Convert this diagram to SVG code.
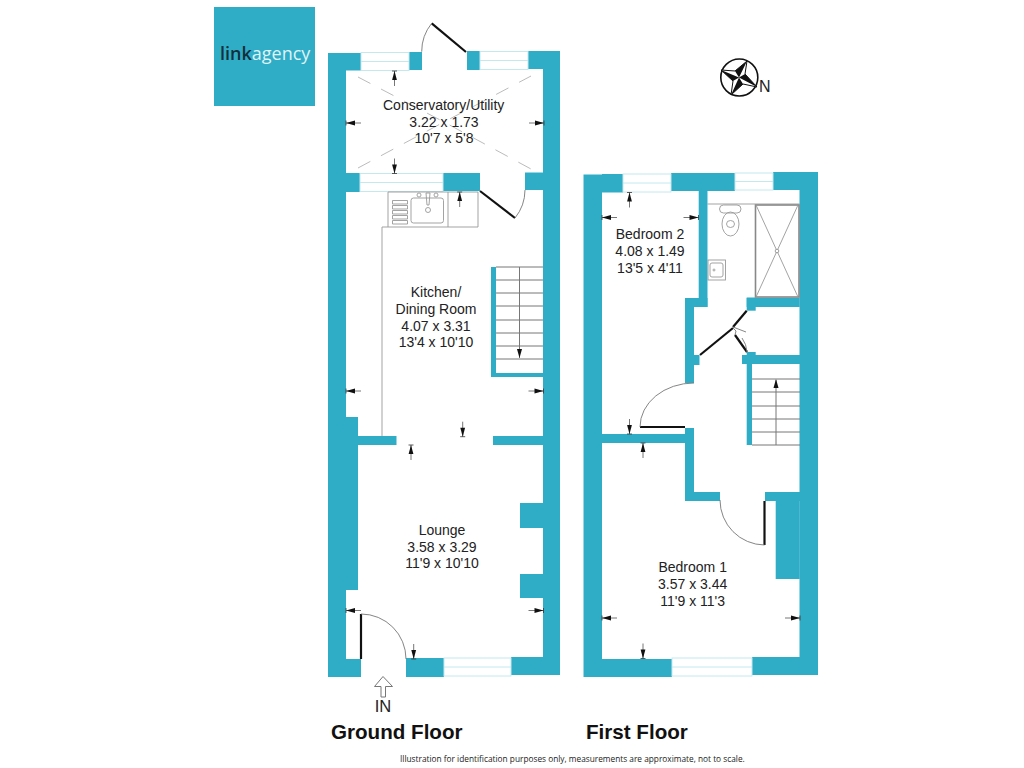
<svg xmlns="http://www.w3.org/2000/svg" width="1024" height="768" viewBox="0 0 1024 768">
<style>
.wall{fill:#30adc6}
.win{fill:#fff;stroke:#c4e8ee;stroke-width:1}
.leaf{fill:none;stroke:#111;stroke-width:2.2}
.arc{fill:none;stroke:#777;stroke-width:.9}
.fix{fill:none;stroke:#999;stroke-width:.9}
.stair{fill:none;stroke:#777;stroke-width:1}
.dash{fill:none;stroke:#aaa;stroke-width:.8;stroke-dasharray:14 12}
.room{font:14px "Liberation Sans",Arial,sans-serif;fill:#222;text-anchor:middle}
.title{font:bold 20.600px "Liberation Sans",Arial,sans-serif;fill:#111}
</style>
<defs>
<g id="dim"><path d="M0 0V15" stroke="#666" stroke-width=".9" fill="none"/><path d="M-2.5 0H2.5" stroke="#333" stroke-width=".8"/><path d="M0 0L2.4 9H-2.4Z" fill="#111"/></g>
</defs>
<rect width="1024" height="768" fill="#fff"/>
<g id="logo">
<rect x="214" y="7" width="101" height="99" fill="#30adc6"/>
<text x="220" y="60" font-family="'Open Sans',sans-serif" font-size="18"><tspan fill="#12303c" font-weight="600">link</tspan><tspan fill="#dff3f7">agency</tspan></text>
</g>
<g id="compass">
<circle cx="739.3" cy="77.5" r="18.5" fill="#fff" stroke="#111" stroke-width="1.6"/>
<path d="M747 61L745 74L757 87L743 84L731 95L733 81L721 70L735 71Z" fill="#fff" stroke="#111" stroke-width="1"/>
<path d="M739 77.5L721 70L733 81ZM739 77.5L747 61L735 71ZM739 77.5L757 87L745 74ZM739 77.5L731 95L743 84Z" fill="#111"/>
<text x="759" y="92" font-family="'Liberation Sans',sans-serif" font-size="16" fill="#222">N</text>
</g>
<g id="ground-floor-walls" class="wall">
<rect x="328" y="53" width="18" height="624"/>
<rect x="346" y="417" width="12" height="173"/>
<rect x="346" y="53" width="15" height="17.5"/>
<rect x="409" y="52" width="13" height="18"/>
<rect x="467" y="51" width="13" height="19"/>
<rect x="528" y="51" width="32" height="18"/>
<rect x="543" y="51" width="17" height="624"/>
<rect x="346" y="173" width="14" height="19"/>
<rect x="443" y="173" width="37" height="18"/>
<rect x="525" y="172.500" width="18" height="17.500"/>
<rect x="358" y="436" width="38.500" height="9"/>
<rect x="493" y="436" width="50" height="9"/>
<rect x="491" y="267" width="5" height="110"/>
<rect x="491" y="373" width="52" height="4"/>
<rect x="520" y="503" width="23" height="25"/>
<rect x="520" y="574" width="23" height="24"/>
<rect x="346" y="659" width="15" height="18"/>
<rect x="406" y="658" width="38" height="19"/>
<rect x="511" y="657" width="32" height="18"/>
</g>
<g id="ground-floor-windows">
<rect class="win" x="361" y="52.500" width="48" height="18"/><path class="win" d="M361 61.500H409"/>
<rect class="win" x="480" y="51.500" width="48" height="18"/><path class="win" d="M480 60.500H528"/>
<rect class="win" x="360" y="173.500" width="83" height="18"/><path class="win" d="M360 182.500H443"/>
<rect class="win" x="444" y="658" width="67" height="18"/><path class="win" d="M444 667H511"/>
</g>
<g id="ground-floor-fittings">
<path class="dash" d="M358 77L444 122L531 76M358 168L444 122L531 169"/>
<path class="fix" d="M388 192H478V227H382V436M388 192V227M448 192V227"/>
<path class="fix" d="M392.500 200.500h15v3.500h-15zM392.500 205.500h15v3.500h-15zM392.500 210.500h15v3.500h-15zM392.500 215.500h15v3.500h-15zM392.500 220.500h15v3.500h-15z"/>
<rect class="fix" x="411" y="198" width="32.500" height="25" rx="2.500"/>
<circle class="fix" cx="419" cy="195" r="2"/><circle class="fix" cx="436" cy="195" r="2"/><circle class="fix" cx="428" cy="210" r="2.500"/>
<path class="fix" d="M426 193H430L429 205H427Z"/>
<path class="stair" d="M496 267H543M496 280H543M496 293H543M496 306H543M496 320H543M496 333H543M496 346H543M496 359H543M519.500 267V358"/>
<path d="M519.500 358L517 349H522Z" fill="#111"/>
</g>
<g id="ground-floor-doors">
<path class="leaf" d="M431.700 23.300L466 52"/><path class="arc" d="M431.700 23.300A45 45 0 0 0 421.700 51.700"/>
<path class="leaf" d="M480 191L515 218"/><path class="arc" d="M515 218A45 45 0 0 0 525 190"/>
<path class="leaf" d="M361 614V659"/><path class="arc" d="M361 614A45 45 0 0 1 406 659"/>
<path d="M383 676.500L374.500 686.500H381V697H385.500V686.500H392.500Z" fill="#fff" stroke="#777" stroke-width="1"/>
</g>
<g id="first-floor-walls" class="wall">
<rect x="583.500" y="174.500" width="18.500" height="502.500"/>
<rect x="602" y="174" width="21" height="18.500"/>
<rect x="671" y="173" width="64" height="18"/>
<rect x="773" y="172" width="45" height="18"/>
<rect x="799.500" y="172" width="18.500" height="503"/>
<rect x="698.700" y="190" width="8.800" height="117"/>
<rect x="685" y="298" width="22.500" height="9"/>
<rect x="685" y="298" width="9" height="85"/>
<rect x="694" y="355" width="5.500" height="10"/>
<rect x="746.700" y="297.700" width="53" height="9.300"/>
<rect x="746.700" y="297.700" width="9" height="13"/>
<rect x="742" y="355" width="58" height="9"/>
<rect x="746.700" y="352" width="9" height="12"/>
<rect x="746.700" y="364" width="5.300" height="81"/>
<rect x="685" y="428" width="9" height="73"/>
<rect x="602" y="434" width="92" height="9"/>
<rect x="685" y="492" width="35" height="9"/>
<rect x="765" y="492" width="35" height="9"/>
<rect x="775.700" y="492" width="24" height="87"/>
<rect x="602" y="659" width="70" height="18"/>
<rect x="752" y="657" width="48" height="18"/>
</g>
<g id="first-floor-windows">
<rect class="win" x="623" y="174" width="48" height="18"/><path class="win" d="M623 183H671"/>
<rect class="win" x="735" y="173" width="38" height="17"/><path class="win" d="M735 181.500H773"/>
<rect class="win" x="672" y="658" width="80" height="18"/><path class="win" d="M672 667H752"/>
</g>
<g id="first-floor-fittings">
<path class="fix" d="M707.500 204H799.500"/>
<rect x="755.500" y="205" width="43.500" height="92" fill="#fff" stroke="#888" stroke-width="1.600"/>
<path class="fix" d="M756 205L777 251L798 205M756 297L777 251L798 297"/>
<circle cx="777" cy="251" r="1.800" fill="#fff" stroke="#888" stroke-width=".8"/>
<rect class="fix" x="719.500" y="205" width="21.500" height="8" rx="4"/>
<ellipse class="fix" cx="730.500" cy="224" rx="8.500" ry="12"/>
<ellipse class="fix" cx="730.500" cy="224" rx="4" ry="3.500"/>
<rect class="fix" x="708" y="260" width="17.500" height="20"/>
<rect class="fix" x="710" y="263" width="13" height="14" rx="2"/>
<circle class="fix" cx="714" cy="270" r="1"/>
<path class="stair" d="M752 379H800M752 392H800M752 406H800M752 419H800M752 432H800M752 445H800M776 445V380"/>
<path d="M776 379L773.500 388H778.500Z" fill="#111"/>
</g>
<g id="first-floor-doors">
<path class="leaf" d="M746.700 310.700L733 327"/><path class="leaf" d="M700 355L733 328"/><path class="leaf" d="M735 335L747 352"/>
<path class="arc" d="M733 327L746 332M735 335L736 331L733 328M747 352A26 26 0 0 0 742 338"/>
<path class="leaf" d="M640 427H685"/><path class="arc" d="M694 383A54 44 0 0 0 640 427"/>
<path class="leaf" d="M764.500 501V545"/><path class="arc" d="M720 500A45 45 0 0 0 764.500 545"/>
</g>
<g id="dimension-marks">
<use href="#dim" transform="translate(394.500 71)"/>
<use href="#dim" transform="translate(346 123) rotate(-90)"/>
<use href="#dim" transform="translate(544 123) rotate(90)"/>
<use href="#dim" transform="translate(394.500 173.500) rotate(180)"/>
<use href="#dim" transform="translate(459.700 192)"/>
<use href="#dim" transform="translate(346 391) rotate(-90)"/>
<use href="#dim" transform="translate(543.500 391) rotate(90)"/>
<use href="#dim" transform="translate(462.700 436.700) rotate(180)"/>
<use href="#dim" transform="translate(411 445)"/>
<use href="#dim" transform="translate(346 610.500) rotate(-90)"/>
<use href="#dim" transform="translate(543.500 610.500) rotate(90)"/>
<use href="#dim" transform="translate(413.700 659) rotate(180)"/>
<use href="#dim" transform="translate(629.500 192.500)"/>
<use href="#dim" transform="translate(602 217.500) rotate(-90)"/>
<use href="#dim" transform="translate(698.500 217.500) rotate(90)"/>
<use href="#dim" transform="translate(629.500 434) rotate(180)"/>
<use href="#dim" transform="translate(643 443)"/>
<use href="#dim" transform="translate(602 618) rotate(-90)"/>
<use href="#dim" transform="translate(800 618) rotate(90)"/>
<use href="#dim" transform="translate(643 658.500) rotate(180)"/>
</g>
<g id="conservatory"><text class="room" x="443.700" y="110">Conservatory/Utility</text><text class="room" x="444" y="126.500">3.22 x 1.73</text><text class="room" x="444" y="143">10'7 x 5'8</text></g>
<g id="kitchen"><text class="room" x="436" y="297">Kitchen/</text><text class="room" x="436" y="314">Dining Room</text><text class="room" x="436" y="330.500">4.07 x 3.31</text><text class="room" x="436" y="347">13'4 x 10'10</text></g>
<g id="lounge"><text class="room" x="442" y="535">Lounge</text><text class="room" x="442" y="551.500">3.58 x 3.29</text><text class="room" x="442" y="568">11'9 x 10'10</text></g>
<g id="bedroom-2"><text class="room" x="650" y="239">Bedroom 2</text><text class="room" x="650" y="256">4.08 x 1.49</text><text class="room" x="650" y="272.500">13'5 x 4'11</text></g>
<g id="bedroom-1"><text class="room" x="692.700" y="572">Bedroom 1</text><text class="room" x="692.700" y="589">3.57 x 3.44</text><text class="room" x="692.700" y="606">11'9 x 11'3</text></g>
<text class="room" x="383" y="712" style="font-size:16.5px">IN</text>
<text class="title" x="331" y="739">Ground Floor</text>
<text class="title" x="586" y="739">First Floor</text>
<text x="400" y="762" font-family="'Open Sans',sans-serif" font-size="8.3" fill="#222">Illustration for identification purposes only, measurements are approximate, not to scale.</text>
</svg>
